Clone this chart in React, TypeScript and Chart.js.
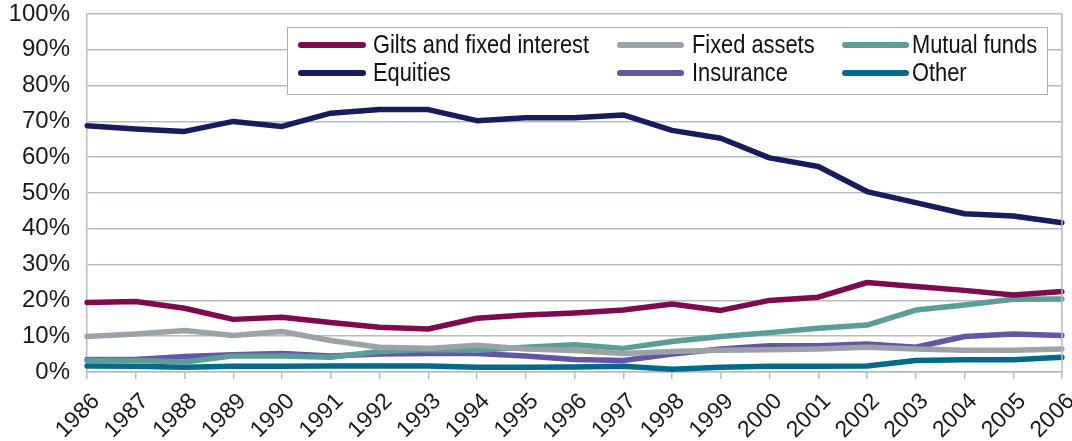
import React, { useEffect, useRef } from "react";
import { Chart, registerables } from "chart.js";

Chart.register(...registerables);

const years = ["1986","1987","1988","1989","1990","1991","1992","1993","1994","1995","1996","1997","1998","1999","2000","2001","2002","2003","2004","2005","2006"];

const gilts = [19.4, 19.7, 17.8, 14.7, 15.3, 13.8, 12.5, 12.0, 15.0, 15.9, 16.5, 17.3, 19.0, 17.2, 20.0, 20.9, 25.0, 23.9, 22.8, 21.5, 22.5];
const fixedAssets = [9.9, 10.6, 11.6, 10.2, 11.3, 8.8, 6.9, 6.6, 7.5, 6.4, 6.0, 5.2, 5.7, 6.1, 6.2, 6.4, 6.9, 6.4, 6.1, 6.1, 6.4];
const mutualFunds = [3.2, 3.2, 2.8, 4.5, 4.5, 4.1, 5.7, 6.3, 6.1, 6.9, 7.6, 6.6, 8.5, 9.9, 11.0, 12.2, 13.1, 17.3, 18.7, 20.3, 20.4];
const equities = [68.8, 67.9, 67.2, 70.0, 68.6, 72.3, 73.3, 73.3, 70.2, 71.0, 71.0, 71.8, 67.5, 65.3, 59.8, 57.4, 50.4, 47.3, 44.2, 43.6, 41.7];
const insurance = [3.5, 3.5, 4.3, 4.8, 5.2, 4.5, 5.0, 5.2, 5.2, 4.5, 3.5, 3.2, 5.0, 6.4, 7.3, 7.3, 7.8, 6.9, 9.9, 10.6, 10.2];
const other = [1.7, 1.6, 1.3, 1.6, 1.6, 1.7, 1.7, 1.7, 1.3, 1.3, 1.4, 1.6, 0.8, 1.3, 1.6, 1.6, 1.7, 3.2, 3.4, 3.4, 4.1];

const seriesNames = ["Gilts and fixed interest", "Fixed assets", "Mutual funds", "Equities", "Insurance", "Other"];
const seriesColors = ["#7f0a4f", "#9ba3a9", "#5b9d97", "#181c5c", "#6356a6", "#046a8c"];
const seriesData = [gilts, fixedAssets, mutualFunds, equities, insurance, other];

const yTicks = [0, 10, 20, 30, 40, 50, 60, 70, 80, 90, 100];

const GRID = "#b5bdc3";
const FONT = "'Liberation Sans', Arial, Helvetica, sans-serif";

const legendPlugin = {
  id: "gridLegend",
  afterDraw(chart: any) {
    const ctx = chart.ctx;
    const area = chart.chartArea;
    ctx.save();
    // right border
    ctx.strokeStyle = GRID;
    ctx.lineWidth = 1.5;
    ctx.beginPath();
    ctx.moveTo(area.right, area.top);
    ctx.lineTo(area.right, area.bottom);
    ctx.stroke();

    // legend box
    const bx = 287.5, by = 27.5, bw = 760, bh = 67;
    ctx.fillStyle = "#ffffff";
    ctx.fillRect(bx, by, bw, bh);
    ctx.strokeStyle = "#aab2b8";
    ctx.lineWidth = 1;
    ctx.strokeRect(bx, by, bw, bh);

    const cols = [{ lx: 301, lw: 62, tx: 373 }, { lx: 620, lw: 61, tx: 692 }, { lx: 845, lw: 61, tx: 912 }];
    const rows = [45, 73];
    ctx.font = `26px ${FONT}`;
    ctx.textBaseline = "middle";
    ctx.textAlign = "left";
    seriesNames.forEach((name, i) => {
      const c = cols[i % 3];
      const y = rows[Math.floor(i / 3)];
      ctx.strokeStyle = seriesColors[i];
      ctx.lineWidth = 6;
      ctx.lineCap = "round";
      ctx.beginPath();
      ctx.moveTo(c.lx, y);
      ctx.lineTo(c.lx + c.lw, y);
      ctx.stroke();
      ctx.save();
      ctx.translate(c.tx, y + 1);
      ctx.scale(0.84, 1);
      ctx.fillStyle = "#111111";
      ctx.fillText(name, 0, 0);
      ctx.restore();
    });
    ctx.restore();
  },
};

export default function App() {
  const ref = useRef<HTMLCanvasElement | null>(null);
  useEffect(() => {
    if (!ref.current) return;
    const chart = new Chart(ref.current, {
      type: "line",
      data: {
        labels: years,
        datasets: seriesNames.map((name, i) => ({
          label: name,
          data: seriesData[i],
          borderColor: seriesColors[i],
          backgroundColor: seriesColors[i],
          borderWidth: 5.5,
          pointRadius: 0,
          pointHoverRadius: 0,
          tension: 0,
          fill: false,
          borderCapStyle: "round" as const,
          borderJoinStyle: "round" as const,
        })),
      },
      options: {
        responsive: false,
        animation: false,
        layout: { padding: { left: 0, right: 10, top: 14, bottom: 0 } },
        plugins: {
          legend: { display: false },
          tooltip: { enabled: false },
        },
        scales: {
          x: {
            offset: false,
            grid: { display: true, drawOnChartArea: false, drawTicks: true, tickLength: 7, color: GRID, lineWidth: 1.5 },
            border: { display: true, color: GRID, width: 1.5 },
            ticks: {
              autoSkip: false,
              maxRotation: 45,
              minRotation: 45,
              padding: 9,
              labelOffset: 9,
              color: "#1a1a1a",
              font: { size: 23, family: FONT },
            },
            afterFit: (s: any) => { s.height = 69; s.paddingLeft = 0; s.paddingRight = 0; },
          },
          y: {
            min: 0,
            max: 100,
            afterBuildTicks: (s: any) => { s.ticks = yTicks.map((v) => ({ value: v })); },
            grid: { color: GRID, lineWidth: 1.5, drawTicks: false },
            border: { display: true, color: GRID, width: 1.5 },
            ticks: {
              padding: 17,
              color: "#1a1a1a",
              font: { size: 24, family: FONT },
              callback: (v: any) => `${v}%`,
            },
            afterFit: (s: any) => { s.width = 87; s.paddingTop = 0; s.paddingBottom = 0; },
          },
        },
      },
      plugins: [legendPlugin],
    });
    return () => chart.destroy();
  }, []);
  return (
    <div style={{ position: "fixed", left: 0, top: 0, width: 1072, height: 441, background: "#fff" }}>
      <canvas ref={ref} width={1072} height={441} />
    </div>
  );
}
